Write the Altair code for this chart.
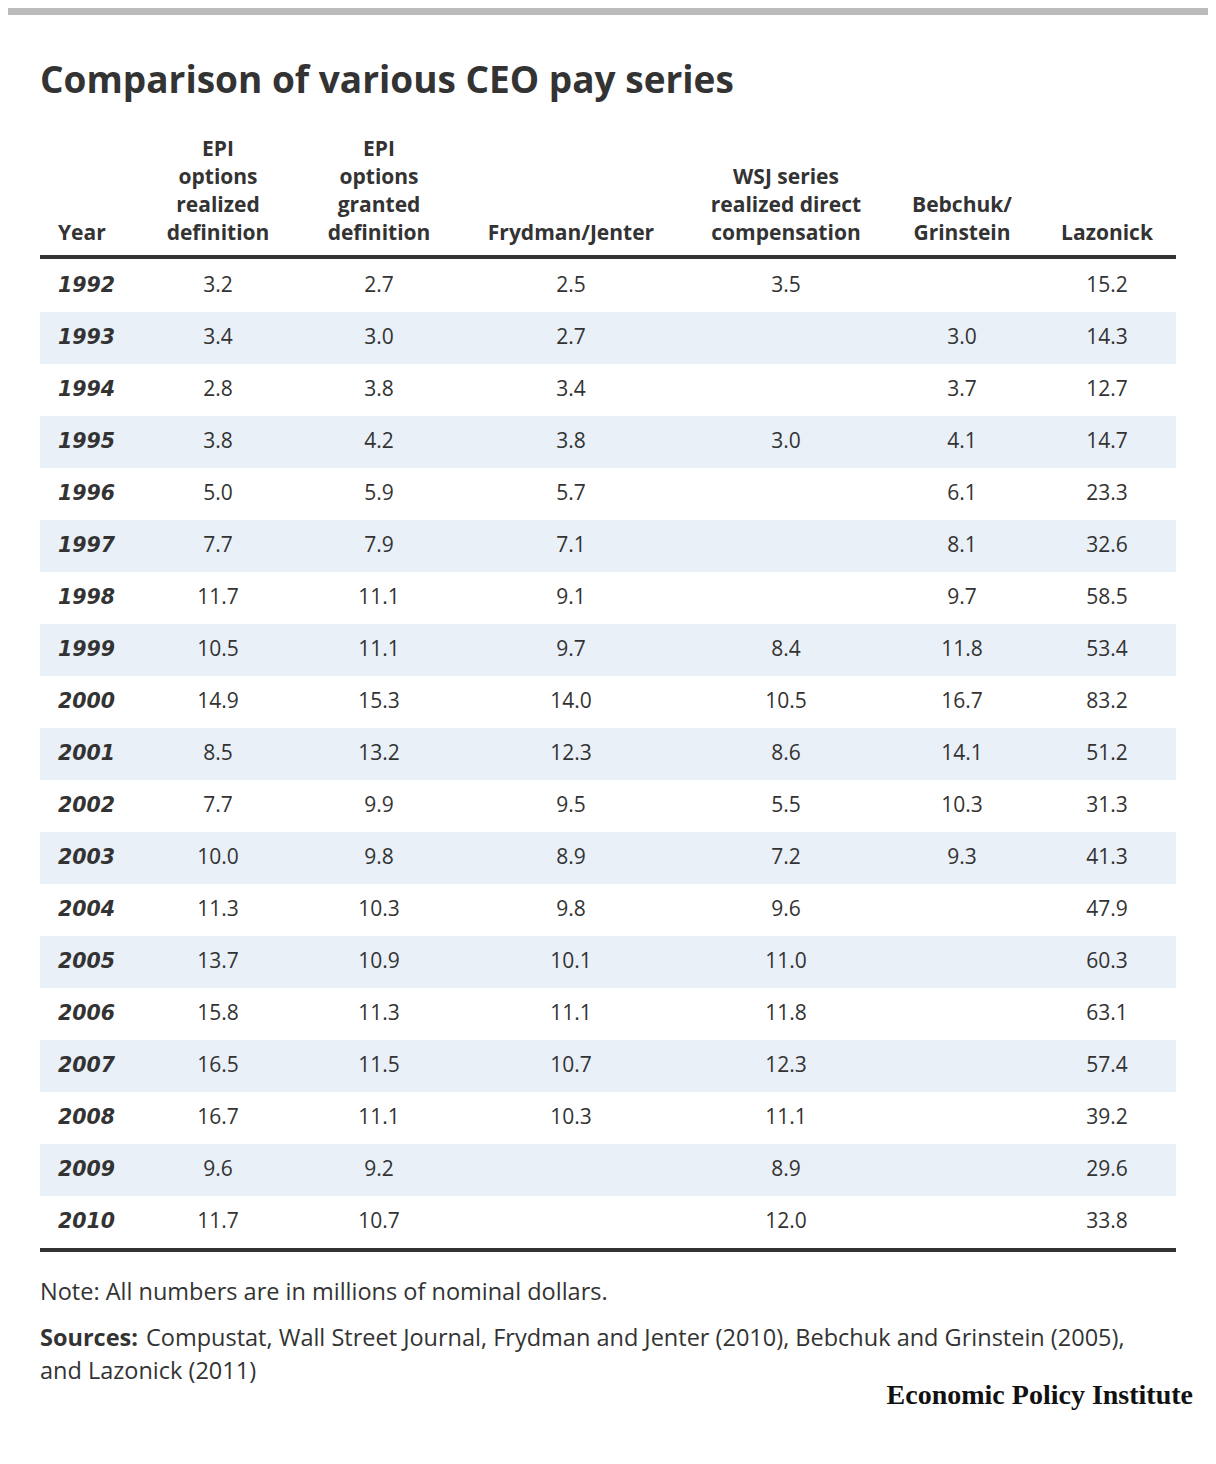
import altair as alt
import pandas as pd

years = list(range(1992, 2011))
epi_realized = [3.2, 3.4, 2.8, 3.8, 5.0, 7.7, 11.7, 10.5, 14.9, 8.5, 7.7, 10.0, 11.3, 13.7, 15.8, 16.5, 16.7, 9.6, 11.7]
epi_granted = [2.7, 3.0, 3.8, 4.2, 5.9, 7.9, 11.1, 11.1, 15.3, 13.2, 9.9, 9.8, 10.3, 10.9, 11.3, 11.5, 11.1, 9.2, 10.7]
frydman_jenter = [2.5, 2.7, 3.4, 3.8, 5.7, 7.1, 9.1, 9.7, 14.0, 12.3, 9.5, 8.9, 9.8, 10.1, 11.1, 10.7, 10.3, None, None]
wsj = [3.5, None, None, 3.0, None, None, None, 8.4, 10.5, 8.6, 5.5, 7.2, 9.6, 11.0, 11.8, 12.3, 11.1, 8.9, 12.0]
bebchuk = [None, 3.0, 3.7, 4.1, 6.1, 8.1, 9.7, 11.8, 16.7, 14.1, 10.3, 9.3, None, None, None, None, None, None, None]
lazonick = [15.2, 14.3, 12.7, 14.7, 23.3, 32.6, 58.5, 53.4, 83.2, 51.2, 31.3, 41.3, 47.9, 60.3, 63.1, 57.4, 39.2, 29.6, 33.8]

col_headers = [
    "EPI\noptions\nrealized\ndefinition",
    "EPI\noptions\ngranted\ndefinition",
    "Frydman/Jenter",
    "WSJ series\nrealized direct\ncompensation",
    "Bebchuk/\nGrinstein",
    "Lazonick",
]
year_header = ["Year"]
title_text = ["Comparison of various CEO pay series"]
note_text = ["Note: All numbers are in millions of nominal dollars."]
sources_bold = ["Sources:"]
sources_line1 = ["Compustat, Wall Street Journal, Frydman and Jenter (2010), Bebchuk and Grinstein (2005),"]
sources_line2 = ["and Lazonick (2011)"]
brand_text = ["Economic Policy Institute"]

FONT = "Open Sans"
FS = 21
NFS = 23.5
TXT = "#333333"
col_x = [210, 371, 563, 778, 954, 1099]   # column centres (layout)
row_range = [252, 1240]                  # table body top/bottom (layout)
HDR_BASE = 232
LH = 28

series = [epi_realized, epi_granted, frydman_jenter, wsj, bebchuk, lazonick]
year_df = pd.DataFrame({"year": [str(y) for y in years]})
shade_df = year_df.iloc[1::2]
yscale = alt.Scale(domain=[str(y) for y in years], range=row_range, paddingInner=0, paddingOuter=0)
one = pd.DataFrame({"k": [0]})

layers = []

layers.append(alt.Chart(one).mark_rect(color="#bbbbbb").encode(
    x=alt.value(0), x2=alt.value(1200), y=alt.value(0), y2=alt.value(7)))

layers.append(alt.Chart(shade_df).mark_rect(color="#e9f0f8").encode(
    y=alt.Y("year:O", scale=yscale, axis=None),
    x=alt.value(32), x2=alt.value(1168)))

layers.append(alt.Chart(pd.DataFrame({"t": title_text})).mark_text(
    font=FONT, fontSize=37, fontWeight="bold", color=TXT, align="left", baseline="alphabetic"
).encode(text="t:N", x=alt.value(32), y=alt.value(85)))

layers.append(alt.Chart(pd.DataFrame({"t": year_header})).mark_text(
    font=FONT, fontSize=FS, fontWeight="bold", color=TXT, align="left", baseline="alphabetic"
).encode(text="t:N", x=alt.value(50), y=alt.value(HDR_BASE)))

for cx, hdr, vals in zip(col_x, col_headers, series):
    n = len(hdr.split("\n"))
    layers.append(alt.Chart(pd.DataFrame({"t": [hdr]})).mark_text(
        font=FONT, fontSize=FS, fontWeight="bold", color=TXT, align="center", baseline="alphabetic",
        lineBreak="\n", lineHeight=LH
    ).encode(text="t:N", x=alt.value(cx), y=alt.value(HDR_BASE - (n - 1) * LH)))
    df = pd.DataFrame({"year": [str(y) for y, v in zip(years, vals) if v is not None],
                       "label": [f"{v:.1f}" for v in vals if v is not None]})
    layers.append(alt.Chart(df).mark_text(
        font=FONT, fontSize=FS, color=TXT, align="center", baseline="middle"
    ).encode(y=alt.Y("year:O", scale=yscale, axis=None), x=alt.value(cx), text="label:N"))

layers.append(alt.Chart(one).mark_rule(color=TXT, strokeWidth=4).encode(
    x=alt.value(32), x2=alt.value(1168), y=alt.value(249)))
layers.append(alt.Chart(one).mark_rule(color=TXT, strokeWidth=4).encode(
    x=alt.value(32), x2=alt.value(1168), y=alt.value(1242)))

layers.append(alt.Chart(year_df).mark_text(
    font="DejaVu Sans", fontSize=20.5, fontWeight="bold", fontStyle="italic", color=TXT,
    align="left", baseline="middle"
).encode(y=alt.Y("year:O", scale=yscale, axis=None), x=alt.value(50), text="year:N"))

layers.append(alt.Chart(pd.DataFrame({"t": note_text})).mark_text(
    font=FONT, fontSize=NFS, color=TXT, align="left", baseline="middle"
).encode(text="t:N", x=alt.value(32), y=alt.value(1285)))

layers.append(alt.Chart(pd.DataFrame({"t": sources_bold})).mark_text(
    font=FONT, fontSize=NFS, fontWeight="bold", color=TXT, align="left", baseline="middle"
).encode(text="t:N", x=alt.value(32), y=alt.value(1331)))
layers.append(alt.Chart(pd.DataFrame({"t": sources_line1})).mark_text(
    font=FONT, fontSize=NFS, color=TXT, align="left", baseline="middle"
).encode(text="t:N", x=alt.value(138), y=alt.value(1331)))
layers.append(alt.Chart(pd.DataFrame({"t": sources_line2})).mark_text(
    font=FONT, fontSize=NFS, color=TXT, align="left", baseline="middle"
).encode(text="t:N", x=alt.value(32), y=alt.value(1364)))

layers.append(alt.Chart(pd.DataFrame({"t": brand_text})).mark_text(
    font="Liberation Serif", fontSize=28, fontWeight="bold", color="#111111", align="right", baseline="middle"
).encode(text="t:N", x=alt.value(1185), y=alt.value(1388)))

chart = alt.layer(*layers).resolve_scale(y="shared").properties(
    width=1200, height=1448, padding=0, autosize="none"
).configure_view(stroke=None)

chart.save("out.html", embed_options={"renderer": "svg", "actions": False})
